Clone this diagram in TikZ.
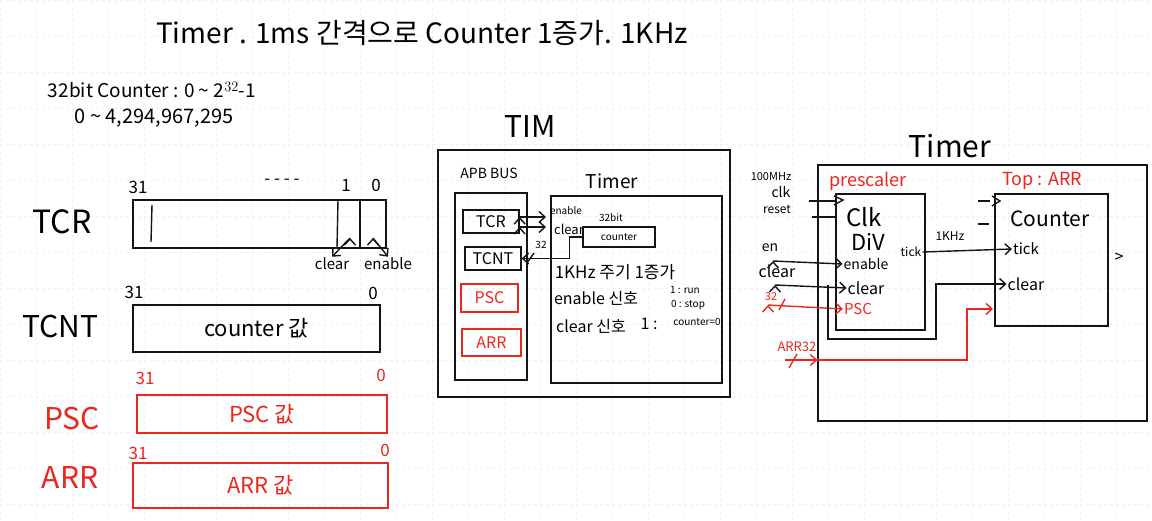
\documentclass[tikz,border=0pt]{standalone}
\usepackage{fontspec}
\setmainfont{Noto Sans CJK KR}
\usetikzlibrary{arrows.meta}
\definecolor{pen}{RGB}{20,20,20}
\definecolor{redpen}{RGB}{236,38,30}
\definecolor{gridline}{RGB}{240,240,240}

\begin{document}
\begin{tikzpicture}[x=1pt,y=-1pt,
	sz/.style={font=\fontsize{#1}{#1}\selectfont, inner sep=1pt},
	reg/.style={draw=pen, line width=1.3pt, inner sep=0pt},
	redreg/.style={reg, draw=redpen, text=redpen},
	wire/.style={draw=pen, line width=1.4pt},
	redwire/.style={draw=redpen, line width=1.4pt},
	>={Straight Barb[length=6pt,width=11pt]}]

	\useasboundingbox (0,0) rectangle (1152,520);
	\draw[gridline, dashed, step=36pt] (0,0) grid (1152,520);

	\node[sz=28] (title) at (422,33) {Timer . 1ms 간격으로 Counter 1증가. 1KHz};
	\node[sz=19] (range) at (152,90) {32bit Counter : 0 \textasciitilde{} 2$^{32}$-1};
	\node[sz=20] (range2) at (154,118) {0 \textasciitilde{} 4,294,967,295};

	\node[sz=32] (tcrname) at (62,222) {TCR};
	\node[reg, minimum width=253pt, minimum height=48pt] (tcr) at (259.5,224) {};
	\draw[wire] (152,205) -- (151,242);
	\draw[wire] (338,200) -- (337,248);
	\draw[wire] (360,200) -- (360,248);
	\node[sz=17] (tcr31) at (138,187) {31};
	\node[sz=17] (tcrdots) at (282,182) {- - - -};
	\node[sz=17] (tcr1) at (346,185) {1};
	\node[sz=17] (tcr0) at (376,185) {0};
	\node[sz=15] (clr) at (332,264) {clear};
	\node[sz=15] (enb) at (388,264) {enable};
	\coordinate (clrbit) at (350,238);
	\coordinate (enbbit) at (373,238);
	\path[wire,->] (clrbit) edge (clr.north);
	\path[wire,->] (enbbit) edge (enb.north);

	\node[sz=30] (tcntname) at (60,326) {TCNT};
	\node[reg, minimum width=247pt, minimum height=47pt, sz=22] (tcnt) at (256.5,328.5) {counter 값};
	\node[sz=17] (tcnt31) at (134,292) {31};
	\node[sz=17] (tcnt0) at (373,293) {0};

	\node[sz=30, text=redpen] (pscname) at (72,418) {PSC};
	\node[redreg, minimum width=250pt, minimum height=38pt, sz=22] (psc) at (262,414) {PSC 값};
	\node[sz=17, text=redpen] (psc31) at (145,378) {31};
	\node[sz=17, text=redpen] (psc0) at (381,375) {0};

	\node[sz=30, text=redpen] (arrname) at (70,477) {ARR};
	\node[redreg, minimum width=255pt, minimum height=45pt, sz=22] (arr) at (260.5,485.5) {ARR 값};
	\node[sz=17, text=redpen] (arr31) at (138,453) {31};
	\node[sz=17, text=redpen] (arr0) at (385,450) {0};

	\node[sz=30] (timtitle) at (530,127) {TIM};
	\node[reg, minimum width=292pt, minimum height=247pt] (tim) at (584,273.5) {};
	\node[sz=14] (apbtitle) at (489,173) {APB BUS};
	\node[reg, minimum width=72pt, minimum height=187pt] (apb) at (491,286.5) {};
	\node[reg, sz=16, minimum width=56pt, minimum height=23pt] (tcrs) at (491,221.5) {TCR};
	\node[reg, sz=16, minimum width=56pt, minimum height=23pt] (tcnts) at (493,258.5) {TCNT};
	\node[redreg, sz=16, minimum width=57pt, minimum height=28pt] (pscs) at (489.5,298) {PSC};
	\node[redreg, sz=16, minimum width=59pt, minimum height=27pt] (arrs) at (491.5,342.5) {ARR};
	\node[sz=19] (timertitle) at (612,181) {Timer};
	\node[reg, minimum width=171pt, minimum height=187pt] (timer) at (636.5,289.5) {};
	\node[sz=10] (enlbl) at (566,211) {enable};
	\node[sz=13] (cllbl) at (569,229) {clear};
	\node[sz=10] (bits) at (611,218) {32bit};
	\node[reg, sz=10, minimum width=72pt, minimum height=20pt] (cnts) at (619,237) {counter};
	\coordinate (enin) at (546,217);
	\coordinate (clin) at (546,227);
	\path[wire,->] ([yshift=4.5pt]tcrs.east) edge (enin);
	\path[wire,->] ([yshift=-5.5pt]tcrs.east) edge (clin);
	\draw[wire,->] (cnts.west) -- ++(-13,0) |- (tcnts.east);
	\draw[wire] (527,263) -- (534,253);
	\node[sz=10] (w32) at (541,245) {32};
	\node[sz=17] (tick1) at (615,272) {1KHz 주기 1증가};
	\node[sz=16] (ensig) at (596,298) {enable 신호};
	\node[sz=10] (run) at (685,290) {1 : run};
	\node[sz=10] (stop) at (688,305) {0 : stop};
	\node[sz=16] (clsig) at (591,326) {clear 신호};
	\node[sz=16] (one) at (649,324) {1 :};
	\node[sz=10] (cnt0) at (697,322) {counter=0};

	\node[sz=30] (rtitle) at (950,146) {Timer};
	\node[reg, minimum width=329pt, minimum height=256pt] (outer) at (982.5,293) {};
	\node[sz=18, text=redpen] (presc) at (868,181) {prescaler};
	\node[reg, minimum width=89pt, minimum height=136pt] (pre) at (880.5,262) {};
	\node[sz=18, text=redpen] (top) at (1042,181) {Top : ARR};
	\node[reg, minimum width=113pt, minimum height=132pt] (cnt) at (1051.5,260) {};
	\node[sz=24] (clk) at (864,217) {Clk};
	\node[sz=22] (div) at (868,242) {DiV};
	\node[sz=12] (ptick) at (911,252) {tick};
	\node[sz=14] (pen) at (866,264) {enable};
	\node[sz=16] (pclr) at (866,288) {clear};
	\node[sz=15, text=redpen] (ppsc) at (858,309) {PSC};
	\node[sz=21] (cname) at (1050,219) {Counter};
	\node[sz=15] (ctick) at (1026,249) {tick};
	\node[sz=16] (cclr) at (1026,284) {clear};
	\node[sz=16] (cout) at (1119,258) {>};

	\node[sz=11] (mhz) at (771,177) {100MHz};
	\node[sz=14] (clkin) at (781,192) {clk};
	\node[sz=12] (rstin) at (777,209) {reset};
	\coordinate (clkend) at (809,201);
	\coordinate (rstend) at (812,217);
	\draw[wire] (clkend) -- (pre.west |- clkend);
	\draw[wire] (rstend) -- (pre.west |- rstend);
	\draw[wire] (834,196) -- (843,200) -- (834,205);
	\node[sz=14] (enlab) at (770,248) {en};
	\node[sz=16] (clrlab) at (777,271) {clear};
	\node[sz=11, text=redpen] (p32) at (771,297) {32};
	\coordinate (enstart) at (773,261);
	\coordinate (clstart) at (775,285);
	\coordinate (pscstart) at (768,305);
	\coordinate (clbranch) at (828,285);
	\path[wire,->] (enstart) edge (pen.west);
	\path[wire,->] (clstart) edge (pclr.west);
	\path[redwire,->] (pscstart) edge (ppsc.west);
	\draw[redwire] (779,310) -- (785,299);
	\draw[wire,->] (clbranch) |- (936,339) |- (cclr.west);
	\draw[wire,->] (ptick.east) -- (ctick.west);
	\node[sz=12] (khz) at (950,236) {1KHz};

	\node[sz=13, text=redpen] (arrlab) at (797,347) {ARR32};
	\coordinate (arrstart) at (785,360);
	\coordinate (arrbend) at (967,360);
	\coordinate (carr) at (993,309);
	\draw[redwire,->] (arrstart) -- (outer.west |- arrstart);
	\draw[redwire,->] (outer.west |- arrstart) -- (arrbend) |- (carr);
	\draw[redwire] (789,368) -- (797,354);

	\draw[wire] (978,201) -- (990,201);
	\draw[wire] (992,196) -- (1000,201) -- (992,206);
	\draw[wire] (978,224) -- (989,224);
	\end{tikzpicture}
\end{document}
